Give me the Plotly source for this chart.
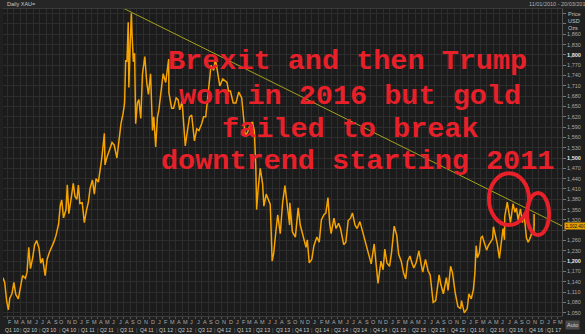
import plotly.graph_objects as go
import pandas as pd

# ---------------- data ----------------
dates = [
"2010-01-11","2010-01-19","2010-01-28","2010-02-05","2010-02-12","2010-02-22","2010-03-03","2010-03-12","2010-03-24",
"2010-04-05","2010-04-13","2010-04-26","2010-05-04","2010-05-12","2010-05-20","2010-05-31","2010-06-08","2010-06-18",
"2010-06-29","2010-07-07","2010-07-16","2010-07-28","2010-08-06","2010-08-17","2010-08-27","2010-09-07","2010-09-17",
"2010-09-29","2010-10-07","2010-10-14","2010-10-22","2010-11-03","2010-11-09","2010-11-16","2010-11-25","2010-12-07",
"2010-12-15","2010-12-24","2010-12-31","2011-01-07","2011-01-18","2011-01-28","2011-02-07","2011-02-16","2011-02-24",
"2011-03-07","2011-03-16","2011-03-24","2011-04-04","2011-04-12","2011-04-20","2011-05-02","2011-05-05","2011-05-13",
"2011-05-25","2011-06-07","2011-06-17","2011-06-30","2011-07-08","2011-07-19","2011-07-29","2011-08-05","2011-08-10",
"2011-08-16","2011-08-22","2011-08-25","2011-08-31","2011-09-06","2011-09-09","2011-09-15","2011-09-21","2011-09-26",
"2011-10-04","2011-10-11","2011-10-20","2011-10-28","2011-11-08","2011-11-17","2011-11-25","2011-12-05","2011-12-14",
"2011-12-20","2011-12-29","2012-01-06","2012-01-13","2012-01-25","2012-02-02","2012-02-14","2012-02-28","2012-02-29",
"2012-03-13","2012-03-22","2012-04-03","2012-04-12","2012-04-20","2012-05-01","2012-05-09","2012-05-16","2012-05-25",
"2012-06-05","2012-06-15","2012-06-28","2012-07-09","2012-07-19","2012-08-01","2012-08-10","2012-08-20","2012-08-31",
"2012-09-14","2012-09-26","2012-10-04","2012-10-16","2012-10-25","2012-11-08","2012-11-19","2012-11-28","2012-12-05",
"2012-12-14","2012-12-27","2013-01-09","2013-01-22","2013-02-05","2013-02-15","2013-02-21","2013-03-05","2013-03-15",
"2013-03-27","2013-04-05","2013-04-12","2013-04-16","2013-04-23","2013-05-03","2013-05-14","2013-05-20","2013-05-31",
"2013-06-07","2013-06-19","2013-06-28","2013-07-05","2013-07-16","2013-07-24","2013-08-05","2013-08-16","2013-08-27",
"2013-09-05","2013-09-18","2013-09-19","2013-10-01","2013-10-15","2013-10-28","2013-11-07","2013-11-19","2013-12-04",
"2013-12-10","2013-12-19","2013-12-31","2014-01-10","2014-01-24","2014-02-04","2014-02-14","2014-02-26","2014-03-07",
"2014-03-17","2014-03-25","2014-04-01","2014-04-14","2014-04-24","2014-05-06","2014-05-15","2014-05-30","2014-06-09",
"2014-06-20","2014-07-01","2014-07-10","2014-07-22","2014-08-01","2014-08-14","2014-08-27","2014-09-09","2014-09-22",
"2014-10-06","2014-10-20","2014-10-31","2014-11-07","2014-11-21","2014-12-01","2014-12-09","2014-12-19","2014-12-31",
"2015-01-09","2015-01-22","2015-02-03","2015-02-12","2015-02-24","2015-03-06","2015-03-17","2015-03-26","2015-04-06",
"2015-04-15","2015-04-24","2015-05-05","2015-05-18","2015-05-29","2015-06-05","2015-06-18","2015-06-30","2015-07-10",
"2015-07-20","2015-07-24","2015-08-05","2015-08-21","2015-08-28","2015-09-10","2015-09-24","2015-10-02","2015-10-14",
"2015-10-23","2015-11-04","2015-11-17","2015-11-30","2015-12-04","2015-12-17","2015-12-31","2016-01-08","2016-01-19",
"2016-01-29","2016-02-05","2016-02-11","2016-02-17","2016-02-26","2016-03-04","2016-03-11","2016-03-22","2016-03-31",
"2016-04-08","2016-04-19","2016-04-28","2016-05-02","2016-05-11","2016-05-20","2016-05-30","2016-06-08","2016-06-16",
"2016-06-23","2016-06-24","2016-07-06","2016-07-14","2016-07-21","2016-08-02","2016-08-11","2016-08-18","2016-08-26",
"2016-09-06","2016-09-15","2016-09-23","2016-10-04","2016-10-12","2016-10-21","2016-11-01","2016-11-08",
"2016-11-09 04:00","2016-11-09 12:00"]

prices = [
1152,1138,1085,1058,1092,1105,1138,1103,1090,
1132,1158,1150,1168,1240,1178,1212,1246,1260,
1238,1194,1208,1158,1205,1226,1238,1256,1275,
1308,1362,1378,1326,1350,1422,1338,1374,1426,
1388,1380,1421,1368,1370,1312,1348,1372,1412,
1436,1395,1440,1430,1465,1500,1572,1480,1500,
1525,1545,1538,1500,1542,1600,1630,1660,1785,
1780,1895,1705,1828,1921,1860,1780,1805,1600,
1660,1670,1615,1745,1795,1720,1685,1745,1580,
1620,1532,1618,1640,1715,1745,1720,1788,1690,
1645,1645,1675,1670,1640,1665,1590,1535,1575,
1620,1625,1550,1585,1580,1600,1620,1620,1690,
1770,1755,1790,1745,1710,1730,1725,1720,1695,
1695,1660,1660,1692,1675,1610,1565,1575,1595,
1605,1580,1480,1350,1410,1470,1425,1360,1395,
1385,1365,1200,1222,1290,1335,1280,1370,1420,
1365,1305,1370,1285,1270,1355,1305,1275,1240,
1262,1195,1205,1245,1270,1255,1320,1335,1340,
1385,1310,1280,1325,1295,1310,1295,1248,1255,
1318,1325,1340,1305,1295,1315,1285,1255,1220,
1192,1250,1170,1135,1200,1175,1235,1195,1185,
1222,1302,1275,1220,1200,1168,1148,1200,1215,
1195,1180,1195,1230,1190,1168,1205,1172,1160,
1105,1080,1085,1160,1135,1105,1152,1115,1185,
1165,1110,1068,1062,1085,1050,1062,1105,1090,
1118,1165,1245,1210,1225,1268,1272,1248,1232,
1245,1255,1265,1300,1275,1250,1208,1263,1295,
1262,1330,1372,1335,1312,1367,1342,1355,1320,
1352,1312,1338,1268,1255,1267,1288,1276,
1337,1302.4]

trend_dates = ["2011-07-28", "2017-03-20"]
trend_values = [1936.5, 1302.4]

y_ticks = list(range(1050, 1921, 30))
month_letters = ["J", "F", "M", "A", "M", "J", "J", "A", "S", "O", "N", "D"]

x_start, x_end = "2010-01-11", "2017-03-20"
y_lo, y_hi = 1040.4, 1933.6

# ---------------- figure ----------------
BG = "#202020"
PLOT_BG = "#1b1b1b"
GRID = "#2d2d2d"
TXT = "#a8a8a8"
RED = "#e8202a"
ORANGE = "#f5a300"
SMALL = "Liberation Sans"

fig = go.Figure()
fig.add_trace(go.Scatter(x=dates, y=prices, mode="lines",
                         line=dict(color=ORANGE, width=1.5), hoverinfo="skip"))
fig.add_trace(go.Scatter(x=trend_dates, y=trend_values, mode="lines",
                         line=dict(color="#a3a31c", width=1), hoverinfo="skip"))

last_price = prices[-1]

def fmt_tick(v):
    if v > 1860 or abs(v - last_price) < 15:
        return ""
    s = f"{v:,}"
    if v % 300 == 0:
        return f"<span style='color:#e8e8e8'><b>{s}</b></span>"
    return s

fig.update_layout(
    width=585, height=334,
    margin=dict(l=3, r=23, t=9, b=18),
    paper_bgcolor=BG, plot_bgcolor=PLOT_BG,
    showlegend=False,
    font=dict(family=SMALL, size=5.5, color=TXT),
    xaxis=dict(type="date", range=[x_start, x_end], showgrid=True, gridcolor=GRID,
               gridwidth=1, dtick="M1", tick0="2010-01-01", showticklabels=False,
               ticks="outside", ticklen=2, tickcolor="#555", zeroline=False,
               showline=True, linecolor="#3a3a3a", mirror=True),
    yaxis=dict(side="right", range=[y_lo, y_hi], tickmode="array", tickvals=y_ticks,
               ticktext=[fmt_tick(v) for v in y_ticks], showgrid=True, gridcolor=GRID,
               ticks="outside", ticklen=3, tickcolor="#777", zeroline=False,
               showline=True, linecolor="#555",
               tickfont=dict(family=SMALL, size=5.5, color=TXT)),
)

# header strip
fig.add_shape(type="rect", xref="paper", yref="paper", x0=-0.01, x1=1.05,
              y0=1.0, y1=1.035, fillcolor="#262626", line=dict(width=0), layer="below")
fig.add_annotation(text="Daily XAU=", xref="paper", yref="paper", x=0.004, y=1.0,
                   xanchor="left", yanchor="bottom", showarrow=False,
                   font=dict(size=5.5, color="#c8c8c8"))
fig.add_annotation(text="11/01/2010 - 20/03/2017 (GMT)", xref="paper", yref="paper",
                   x=0.937, y=1.0, xanchor="left", yanchor="bottom", showarrow=False,
                   font=dict(size=5.5, color="#b0b0b0"))
for i, t in enumerate(["Price", "USD", "Ozs"]):
    fig.add_annotation(text=t, xref="paper", yref="paper", x=1.007, y=0.999 - i * 0.0228,
                       xanchor="left", yanchor="top", showarrow=False,
                       font=dict(size=5.5, color="#c0c0c0"))

# month and quarter labels along the bottom
months = pd.date_range("2010-02-01", "2017-03-01", freq="MS")
for m in months:
    mid = m + pd.Timedelta(days=14)
    fig.add_annotation(text=month_letters[m.month - 1], x=mid, xref="x", yref="paper",
                       y=-0.0195, yanchor="middle", showarrow=False,
                       font=dict(size=5.5, color=TXT))
quarters = pd.date_range("2010-01-01", "2017-01-01", freq="QS")
xs, xe = pd.Timestamp(x_start), pd.Timestamp(x_end)
for q in quarters:
    qe = q + pd.offsets.QuarterBegin(startingMonth=1)
    a, b = max(q, xs), min(qe, xe)
    mid = a + (b - a) / 2
    fig.add_annotation(text=f"Q{(q.month - 1) // 3 + 1} {q.year % 100:02d}", x=mid,
                       xref="x", yref="paper", y=-0.046, yanchor="middle", showarrow=False,
                       font=dict(size=5.2, color="#c8c8c8"))
    if q > xs:
        fig.add_annotation(text="|", x=q, xref="x", yref="paper", y=-0.046,
                           yanchor="middle", showarrow=False, font=dict(size=5.5, color="#777"))

# Auto box and last-price label
fig.add_annotation(text="Auto", xref="paper", yref="paper", x=1.006, y=-0.012,
                   xanchor="left", yanchor="top", showarrow=False, bgcolor="#4a4a4a",
                   font=dict(size=5.5, color="#d0d0d0"), borderpad=1)
fig.add_annotation(text=f"{last_price:,.3f}", x=1.003, xref="paper", y=last_price,
                   yref="y", xanchor="left", yanchor="middle", showarrow=False,
                   bgcolor="#e8a000", font=dict(size=4.6, color="#111"), borderpad=0.5)

# big red commentary
lines = ["Brexit and then Trump", "won in 2016 but gold", "failed to break",
         "downtrend starting 2011"]
xs_px = [347, 350, 350, 357]
ys_px = [62, 96, 129, 161]
for t, xpx, ypx in zip(lines, xs_px, ys_px):
    fig.add_annotation(text=f"<b>{t}</b>", xref="paper", yref="paper",
                       x=(xpx - 3) / 559, y=1 - (ypx - 9) / 307, xanchor="center",
                       yanchor="middle", showarrow=False,
                       font=dict(family="Liberation Mono", size=28.5, color=RED))

# red ellipses
fig.add_shape(type="circle", xref="x", yref="y", x0="2016-04-11", x1="2016-10-16",
              y0=1305, y1=1456, line=dict(color=RED, width=4))
fig.add_shape(type="circle", xref="x", yref="y", x0="2016-10-07", x1="2017-01-18",
              y0=1276, y1=1398, line=dict(color=RED, width=4))

fig.write_html("out.html")
